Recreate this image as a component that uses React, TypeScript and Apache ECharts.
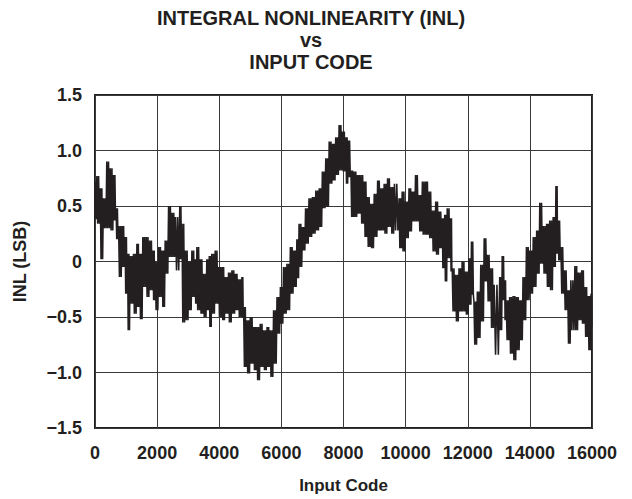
import React, { useEffect, useRef } from "react";
import * as echarts from "echarts";

// INL envelope readings: at each input code the upper and lower excursion (LSB)
const codes = [
  0, 60, 170, 270, 380, 490, 600, 680, 760, 870, 970, 1050, 1130, 1240, 1350, 1440,
  1540, 1650, 1760, 1870, 1940, 2050, 2160, 2260, 2370, 2480, 2590, 2730, 2800, 2910,
  3020, 3120, 3230, 3280, 3390, 3490, 3600, 3680, 3760, 3870, 3980, 4090, 4190, 4300,
  4410, 4520, 4620, 4730, 4785, 4890, 5000, 5110, 5210, 5320, 5430, 5540, 5640, 5750,
  5860, 5970, 6070, 6180, 6290, 6400, 6500, 6570, 6680, 6780, 6890, 7000, 7110, 7220,
  7320, 7430, 7540, 7650, 7750, 7860, 7970, 8080, 8150, 8240, 8340, 8450, 8560, 8670,
  8770, 8880, 8990, 9100, 9200, 9310, 9420, 9530, 9640, 9790, 9890, 10000, 10110, 10210,
  10320, 10430, 10540, 10650, 10750, 10860, 10970, 11080, 11180, 11260, 11340, 11450,
  11500, 11610, 11720, 11820, 11930, 12040, 12120, 12200, 12310, 12420, 12530, 12630,
  12740, 12850, 13030, 13110, 13190, 13240, 13350, 13460, 13570, 13680, 13780, 13890,
  14000, 14110, 14220, 14320, 14430, 14540, 14640, 14750, 14840, 14910, 15000, 15110,
  15220, 15320, 15450, 15560, 15670, 15770, 15880, 15970,
];

const inlHigh = [
  0.72, 0.77, 0.66, 0.57, 0.9, 0.84, 0.78, 0.48, 0.32, 0.32, 0.22, 0.07, 0.05, 0.07, 0.16, 0.07,
  0.22, 0.22, 0.19, 0.1, 0.0, 0.13, 0.1, 0.19, 0.5, 0.44, 0.4, 0.5, 0.34, 0.1,
  0.0, 0.1, 0.02, 0.13, 0.02, -0.11, 0.02, 0.05, 0.07, 0.1, -0.05, -0.05, -0.14, -0.1,
  -0.08, -0.11, -0.16, -0.14, -0.41, -0.53, -0.5, -0.59, -0.59, -0.56, -0.62, -0.59, -0.62, -0.44,
  -0.32, -0.23, -0.05, -0.02, 0.13, 0.1, 0.2, 0.34, 0.31, 0.48, 0.57, 0.58, 0.64, 0.66,
  0.81, 0.93, 1.08, 1.06, 1.12, 1.23, 1.17, 1.12, 1.09, 0.82, 0.81, 0.78, 0.78, 0.72,
  0.58, 0.52, 0.61, 0.73, 0.66, 0.7, 0.75, 0.67, 0.7, 0.57, 0.63, 0.54, 0.66, 0.63,
  0.78, 0.6, 0.72, 0.72, 0.63, 0.46, 0.54, 0.45, 0.39, 0.42, 0.48, 0.39,
  -0.06, -0.12, -0.06, 0.0, -0.09, 0.03, 0.18, -0.36, -0.27, -0.03, 0.21, 0.06,
  -0.06, -0.21, -0.14, 0.05, -0.17, -0.35, -0.32, -0.31, -0.32, -0.35, -0.14, 0.13,
  0.1, 0.22, 0.28, 0.53, 0.32, 0.34, 0.37, 0.4, 0.68, 0.37, 0.13, -0.08,
  -0.26, -0.17, -0.04, -0.1, -0.08, -0.23, -0.31, -0.29,
];

const inlLow = [
  0.38, 0.34, 0.02, 0.3, 0.3, 0.28, 0.37, 0.2, -0.14, -0.05, -0.29, -0.62, -0.38, -0.47, -0.41, -0.52,
  -0.23, -0.32, -0.26, -0.35, -0.44, -0.32, -0.41, -0.11, 0.04, 0.04, -0.08, 0.02, -0.55, -0.53,
  -0.44, -0.32, -0.38, -0.44, -0.47, -0.5, -0.44, -0.59, -0.47, -0.38, -0.5, -0.53, -0.47, -0.55,
  -0.47, -0.44, -0.5, -0.5, -0.95, -1.01, -0.92, -0.98, -1.07, -0.95, -0.98, -0.95, -1.04, -0.92,
  -0.65, -0.56, -0.47, -0.44, -0.29, -0.23, -0.15, -0.05, 0.1, 0.16, 0.22, 0.25, 0.28, 0.31,
  0.48, 0.49, 0.7, 0.73, 0.78, 0.82, 0.81, 0.7, 0.76, 0.4, 0.4, 0.43, 0.34, 0.22,
  0.13, 0.12, 0.22, 0.28, 0.28, 0.25, 0.31, 0.25, 0.28, 0.12, 0.09, 0.21, 0.27, 0.36,
  0.36, 0.27, 0.24, 0.24, 0.21, 0.09, 0.06, 0.12, -0.06, -0.18, 0.03, -0.09,
  -0.45, -0.54, -0.45, -0.45, -0.48, -0.39, -0.3, -0.75, -0.69, -0.54, -0.18, -0.36,
  -0.6, -0.84, -0.62, -0.35, -0.53, -0.71, -0.83, -0.89, -0.8, -0.71, -0.53, -0.35,
  -0.29, -0.23, -0.11, -0.02, -0.11, -0.23, -0.26, -0.05, 0.07, 0.01, -0.29, -0.44,
  -0.74, -0.62, -0.62, -0.53, -0.56, -0.68, -0.8, -0.59,
];

const titleLines = ["INTEGRAL NONLINEARITY (INL)", "vs", "INPUT CODE"];
const xTicks = { min: 0, max: 16000, step: 2000 };
const yTicks = { min: -1.5, max: 1.5, step: 0.5 };

const INK = "#231f20";
const FONT = "'Liberation Sans', Arial, Helvetica, sans-serif";
// strokes drawn inside each code bin (alternating upper / lower excursion)
const STROKES_PER_BIN = 4;

export default function App() {
  const ref = useRef<HTMLDivElement>(null);

  useEffect(() => {
    if (!ref.current) return;
    const chart = echarts.init(ref.current, undefined, { renderer: "svg" });

    // the trace swings between the upper and lower excursion in each code bin
    const trace: [number, number][] = [];
    codes.forEach((c, i) => {
      const next = i < codes.length - 1 ? codes[i + 1] : xTicks.max;
      const step = (next - c) / STROKES_PER_BIN;
      for (let k = 0; k < STROKES_PER_BIN; k++) {
        trace.push([c + k * step, k % 2 === 0 ? inlHigh[i] : inlLow[i]]);
      }
    });

    const fmtY = (v: number) =>
      Math.abs(v) < 1e-9 ? "0" : (v < 0 ? "\u2212" : "") + Math.abs(v).toFixed(1);

    const tickLabel = {
      color: INK,
      fontSize: 18,
      fontWeight: "bold",
      fontFamily: FONT,
    };
    const nameStyle = { color: INK, fontSize: 17, fontWeight: "bold", fontFamily: FONT };

    chart.setOption({
      animation: false,
      backgroundColor: "#ffffff",
      textStyle: { fontFamily: FONT },
      graphic: titleLines.map((t, i) => ({
        type: "text",
        x: 311,
        y: 18 + i * 22,
        style: {
          text: t,
          fill: INK,
          font: `bold 20px ${FONT}`,
          align: "center",
          verticalAlign: "middle",
          textAlign: "center",
          textVerticalAlign: "middle",
        },
      })),
      grid: {
        left: 95,
        top: 95,
        width: 497,
        height: 333,
        show: true,
        borderColor: INK,
        borderWidth: 2,
        backgroundColor: "transparent",
      },
      xAxis: {
        type: "value",
        min: xTicks.min,
        max: xTicks.max,
        interval: xTicks.step,
        name: "Input Code",
        nameLocation: "middle",
        nameGap: 49,
        nameTextStyle: nameStyle,
        axisLine: { show: false },
        axisTick: { show: false },
        axisLabel: { ...tickLabel, margin: 16, formatter: (v: number) => String(v) },
        splitLine: { show: true, lineStyle: { color: "#3a3a3a", width: 1 } },
      },
      yAxis: {
        type: "value",
        min: yTicks.min,
        max: yTicks.max,
        interval: yTicks.step,
        name: "INL (LSB)",
        nameLocation: "middle",
        nameGap: 66,
        nameTextStyle: { ...nameStyle, fontSize: 18 },
        axisLine: { show: false },
        axisTick: { show: false },
        axisLabel: { ...tickLabel, margin: 13, formatter: fmtY },
        splitLine: { show: true, lineStyle: { color: "#3a3a3a", width: 1 } },
      },
      series: [
        {
          type: "line",
          data: trace,
          showSymbol: false,
          symbol: "none",
          silent: true,
          clip: true,
          lineStyle: { color: INK, width: 1.6 },
        },
      ],
    });

    return () => chart.dispose();
  }, []);

  return (
    <div
      ref={ref}
      style={{ position: "fixed", left: 0, top: 0, width: 632, height: 499, background: "#fff" }}
    />
  );
}
